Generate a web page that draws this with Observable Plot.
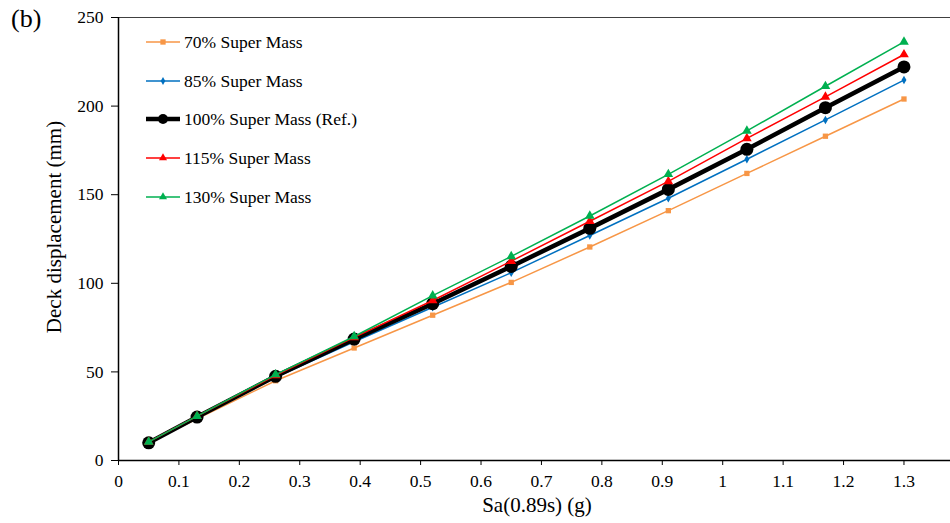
<!DOCTYPE html>
<html><head><meta charset="utf-8">
<script src="https://cdn.jsdelivr.net/npm/d3@7"></script>
<script src="https://cdn.jsdelivr.net/npm/@observablehq/plot@0.6"></script>
<style>
body{margin:0;background:#fff;}
#wrap{position:relative;width:950px;height:523px;font-family:"Liberation Serif","Times New Roman",serif;overflow:hidden;}
.leg{position:absolute;left:144px;height:20px;display:flex;align-items:center;font-size:17.5px;color:#000;white-space:nowrap;}
.leg svg{margin-right:2px;}
</style></head><body><div id="wrap"></div>
<script>
const sa = [0.05, 0.13, 0.26, 0.39, 0.52, 0.65, 0.78, 0.91, 1.04, 1.17, 1.3];
const mass70  = [10, 23.5, 45, 63.5, 82, 100.5, 120.5, 141, 162, 183, 204];
const mass85  = [10, 24.5, 47, 67, 86.5, 106, 127, 148, 170, 192.2, 214.7];
const mass100 = [10, 24.5, 47.5, 68.5, 88.5, 109.5, 131, 153, 175.6, 199.1, 222.1];
const mass115 = [10.5, 25, 48, 69.5, 90.3, 112.5, 135, 157.5, 181.8, 205.2, 229.1];
const mass130 = [10.5, 25, 48.5, 70, 93, 115.2, 138, 161.5, 186, 211.2, 236.2];
const seriesNames = ["70% Super Mass", "85% Super Mass", "100% Super Mass (Ref.)", "115% Super Mass", "130% Super Mass"];
const seriesValues = [mass70, mass85, mass100, mass115, mass130];
const xTicks = [0, 0.1, 0.2, 0.3, 0.4, 0.5, 0.6, 0.7, 0.8, 0.9, 1, 1.1, 1.2, 1.3];
const yTicks = [0, 50, 100, 150, 200, 250];

const styles = [
  {color: "#F79646", symbol: "square", r: 3, sw: 1.5, lr: 3},
  {color: "#0070C0", symbol: "diamond", r: 2.6, sw: 1.5, lr: 2.4},
  {color: "#000000", symbol: "circle", r: 6.5, sw: 4.5, lr: 5},
  {color: "#FF0000", symbol: "triangle", r: 3.6, sw: 1.5, lr: 3},
  {color: "#00B050", symbol: "triangle", r: 3.6, sw: 1.5, lr: 3}
];

const rows = [];
seriesNames.forEach((name, i) => seriesValues[i].forEach((v, j) => rows.push({s: name, i, x: sa[j], y: v})));

const marks = [
  Plot.ruleY([250], {stroke: "#404040", strokeWidth: 1.2}),
  Plot.axisX({ticks: xTicks, tickSize: 5, tickPadding: 9, tickFormat: d => String(d), fontSize: 17.5, label: null}),
  Plot.axisY({ticks: yTicks, tickSize: 7, tickPadding: 8, fontSize: 17.5, label: null}),
];
styles.forEach((st, i) => {
  const d = rows.filter(r => r.i === i);
  marks.push(Plot.line(d, {x: "x", y: "y", stroke: st.color, strokeWidth: st.sw}));
  marks.push(Plot.dot(d, {x: "x", y: "y", symbol: () => st.symbol, fill: st.color, stroke: "none", r: st.r}));
});
marks.push(Plot.ruleX([0], {stroke: "#000", strokeWidth: 1.5}));
marks.push(Plot.ruleY([0], {stroke: "#000", strokeWidth: 1.5}));

const chart = Plot.plot({
  width: 950, height: 523,
  marginLeft: 118, marginRight: 0, marginTop: 17, marginBottom: 63,
  style: {fontFamily: "'Liberation Serif','Times New Roman',serif", fontSize: "17px", color: "#000", background: "#fff", overflow: "visible"},
  x: {domain: [0, 1.377], label: null},
  y: {domain: [0, 250], label: null},
  symbol: {type: "identity"},
  marks
});
chart.style.position = "absolute"; chart.style.left = "0"; chart.style.top = "0";
const wrap = document.getElementById("wrap");
wrap.appendChild(chart);

// axis titles and panel tag
const svg = d3.select(chart);
svg.append("text").attr("x", 537).attr("y", 512).attr("text-anchor", "middle")
  .attr("font-size", 21).attr("font-family", "'Liberation Serif',serif").text("Sa(0.89s) (g)");
svg.append("text").attr("transform", "translate(61,227) rotate(-90)").attr("text-anchor", "middle")
  .attr("font-size", 21).attr("font-family", "'Liberation Serif',serif").text("Deck displacement (mm)");
svg.append("text").attr("x", 11).attr("y", 27).attr("font-size", 26).attr("text-anchor", "start")
  .attr("font-family", "'Liberation Serif',serif").text("(b)");

// legend
const legY = [42, 81, 119, 158, 197];
seriesNames.forEach((name, i) => {
  const st = styles[i];
  const div = document.createElement("div");
  div.className = "leg";
  div.style.top = (legY[i] - 10) + "px";
  const ls = d3.create("svg").attr("width", 38).attr("height", 20);
  ls.append("line").attr("x1", 2).attr("x2", 36).attr("y1", 10).attr("y2", 10).attr("stroke", st.color).attr("stroke-width", st.sw);
  const symMap = {square: d3.symbolSquare, diamond: d3.symbolDiamond, circle: d3.symbolCircle, triangle: d3.symbolTriangle};
  const area = Math.PI * st.lr * st.lr;
  ls.append("path").attr("d", d3.symbol(symMap[st.symbol], area)()).attr("transform", "translate(19,10)").attr("fill", st.color);
  div.appendChild(ls.node());
  const t = document.createElement("span"); t.textContent = name; div.appendChild(t);
  wrap.appendChild(div);
});
</script>
</body></html>
